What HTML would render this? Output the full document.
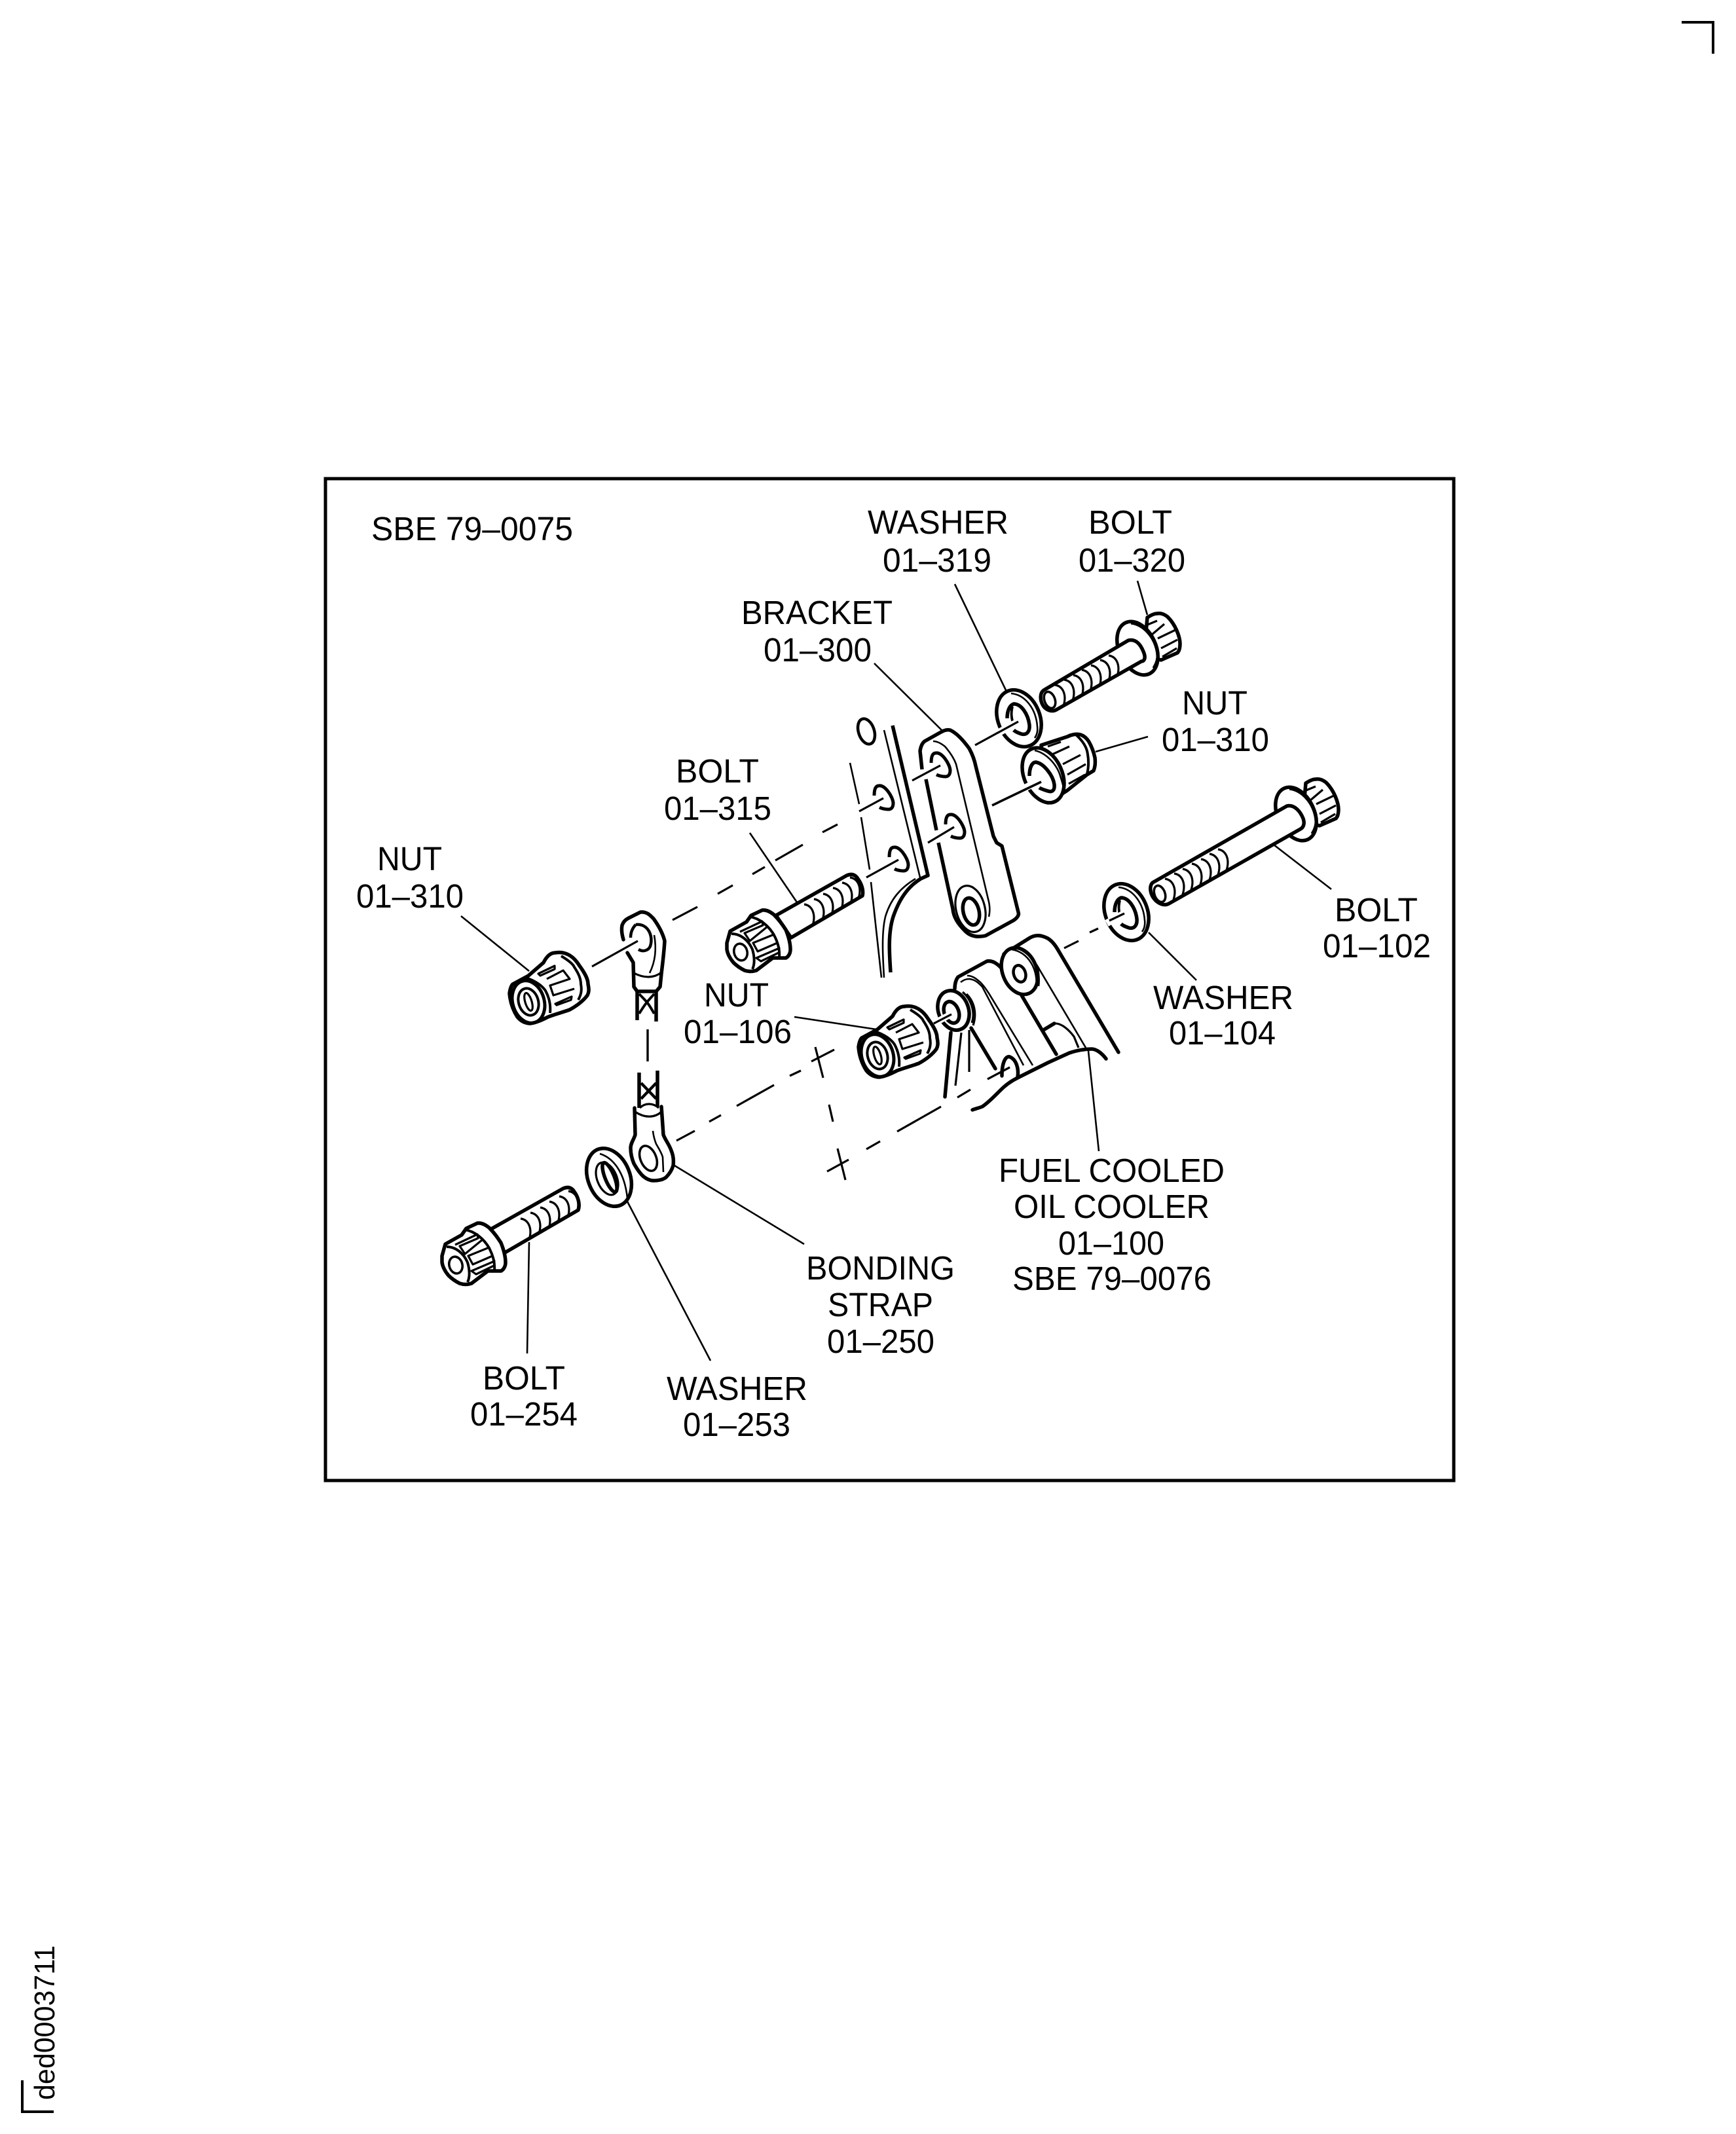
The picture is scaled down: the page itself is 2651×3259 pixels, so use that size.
<!DOCTYPE html>
<html><head><meta charset="utf-8"><style>
html,body{margin:0;padding:0;background:#fff}
svg{display:block}
text{font-family:"Liberation Sans",sans-serif;font-size:51px;fill:#000}
.k{fill:none;stroke:#000;stroke-width:5.5;stroke-linecap:round;stroke-linejoin:round}
.w{fill:#fff;stroke:#000;stroke-width:5.5;stroke-linejoin:round}
.m{fill:none;stroke:#000;stroke-width:3.2;stroke-linejoin:round}
.s{fill:none;stroke:#000;stroke-width:2.6}
</style></head><body>
<svg xmlns="http://www.w3.org/2000/svg" width="2651" height="3259" viewBox="0 0 2651 3259">
<defs>
<path id="t" class="m" d="M-7-16C6-14 11 0 6 16"/>
<path id="ho" class="k" style="stroke-width:5;stroke-linecap:butt" d="M-14-3C-14-12-12-18-7-18C2-20 14-2 15 8C15 15 12 18 8 18C3 18-2 17-6 15"/>
<g id="ha">
<path class="w" d="M15-47C20-50 25-53 30-53C36-54 41-52 46-48C52-42 57-34 60-27C63-20 65-14 65-7C65-1 64 4 61 7L36 18L10 10Z"/>
<path class="m" d="M13-35L30-42M21-20L41-37M31-15L58-28M36 0L61-13M38 13L60 0"/>
<ellipse class="w" rx="28" ry="43" transform="rotate(-25)"/>
<path class="m" d="M-10-38C8-36 26-18 30 8C31 16 28 24 24 30"/>
</g>
<g id="hf">
<path class="w" d="M-21-14L-16-32L9-46L16-56L33-64C40-65 46-61 51-57C58-50 64-42 69-34C73-24 76-14 76-4C76 2 73 7 69 9L49 9L24 28C18 30 12 30 6 28C0 25-6 21-11 16C-16 10-20 3-21-4Z"/>
<path class="m" style="stroke-width:4" d="M-14-28C0-28 12-18 18-4C21 6 22 18 18 26"/>
<ellipse class="m" style="stroke-width:3.6" rx="10" ry="13" transform="rotate(-15)"/>
<path class="m" style="stroke-width:4" d="M14-54C28-52 44-40 52-24C57-14 60 -4 59 8"/>
<path class="m" d="M-1-31L33-47L34-41L6-29L14-17L41-39L51-27L19-14L26-1L56-14L59-6L24 9L31 14L58 1"/>
</g>
<g id="n">
<path class="w" d="M-29-13C-28-20-26-25-24-27L0-40L23-60C28-70 34-75 41-75C58-78 70-68 78-55C86-44 91-35 91-27C93-18 92-14 90-10C84-2 74 6 63 12C52 16 40 19 30 23C22 27 12 32 3 33C-5 33-12 29-17 23C-24 12-28 0-29-13Z"/>
<ellipse class="k" rx="24" ry="33" transform="rotate(-17)" style="stroke-width:5"/>
<ellipse class="m" style="stroke-width:4" rx="15" ry="21" transform="rotate(-17)"/>
<ellipse class="m" rx="5" ry="14" transform="rotate(-17)"/>
<path class="m" style="stroke-width:4" d="M50-70C60-64 68-58 70-53C76-44 80-36 80-27C82-17 80-10 76-3"/>
<path class="m" style="stroke-width:4" d="M-4-37C10-32 20-26 26-17C32-6 34 6 33 17"/>
<path class="m" d="M15-43L40-55L40-50L18-40ZM28-35L53-48L63-35L33-25L38-10L70-20M41 3L66-8L65-3L43 5Z"/>
</g>
<g id="wa">
<ellipse class="w" rx="32" ry="45" transform="rotate(-22)"/>
<path class="s" d="M-12-38C10-36 26-14 28 12C29 20 27 26 24 30"/>
<path class="k" style="stroke-linecap:butt" d="M-18 0C-18-12-14-20-8-22C4-22 14-6 16 10C17 20 12 26 4 24C-2 22-6 20-8 18"/>
<path class="k" style="stroke-width:4;stroke-linecap:butt" d="M-10-18C-12-10-12-4-10 4"/>
</g>
</defs>
<rect x="497" y="731" width="1723" height="1530" fill="none" stroke="#000" stroke-width="5"/>
<path d="M2568 34H2616V82" fill="none" stroke="#000" stroke-width="4"/>
<path d="M34 3177V3225H82" fill="none" stroke="#000" stroke-width="4"/>
<text transform="translate(83,3207) rotate(-90)" style="font-size:44px" textLength="236" lengthAdjust="spacingAndGlyphs">ded0003711</text>

<!-- labels -->
<text x="567" y="825" textLength="308" lengthAdjust="spacingAndGlyphs">SBE 79–0075</text>
<text x="1325" y="815" textLength="215" lengthAdjust="spacingAndGlyphs">WASHER</text>
<text x="1348" y="873" textLength="166" lengthAdjust="spacingAndGlyphs">01–319</text>
<text x="1662" y="815" textLength="128" lengthAdjust="spacingAndGlyphs">BOLT</text>
<text x="1647" y="873" textLength="163" lengthAdjust="spacingAndGlyphs">01–320</text>
<text x="1132" y="953" textLength="231" lengthAdjust="spacingAndGlyphs">BRACKET</text>
<text x="1166" y="1010" textLength="165" lengthAdjust="spacingAndGlyphs">01–300</text>
<text x="1805" y="1091" textLength="100" lengthAdjust="spacingAndGlyphs">NUT</text>
<text x="1774" y="1147" textLength="164" lengthAdjust="spacingAndGlyphs">01–310</text>
<text x="1032" y="1195" textLength="127" lengthAdjust="spacingAndGlyphs">BOLT</text>
<text x="1014" y="1252" textLength="164" lengthAdjust="spacingAndGlyphs">01–315</text>
<text x="2038" y="1407" textLength="127" lengthAdjust="spacingAndGlyphs">BOLT</text>
<text x="2020" y="1462" textLength="165" lengthAdjust="spacingAndGlyphs">01–102</text>
<text x="576" y="1329" textLength="99" lengthAdjust="spacingAndGlyphs">NUT</text>
<text x="544" y="1386" textLength="164" lengthAdjust="spacingAndGlyphs">01–310</text>
<text x="1075" y="1537" textLength="99" lengthAdjust="spacingAndGlyphs">NUT</text>
<text x="1044" y="1593" textLength="165" lengthAdjust="spacingAndGlyphs">01–106</text>
<text x="1761" y="1541" textLength="214" lengthAdjust="spacingAndGlyphs">WASHER</text>
<text x="1785" y="1595" textLength="163" lengthAdjust="spacingAndGlyphs">01–104</text>
<text x="1525" y="1805" textLength="345" lengthAdjust="spacingAndGlyphs">FUEL COOLED</text>
<text x="1548" y="1860" textLength="299" lengthAdjust="spacingAndGlyphs">OIL COOLER</text>
<text x="1616" y="1916" textLength="162" lengthAdjust="spacingAndGlyphs">01–100</text>
<text x="1546" y="1970" textLength="304" lengthAdjust="spacingAndGlyphs">SBE 79–0076</text>
<text x="1231" y="1954" textLength="227" lengthAdjust="spacingAndGlyphs">BONDING</text>
<text x="1264" y="2010" textLength="161" lengthAdjust="spacingAndGlyphs">STRAP</text>
<text x="1263" y="2066" textLength="164" lengthAdjust="spacingAndGlyphs">01–250</text>
<text x="737" y="2122" textLength="126" lengthAdjust="spacingAndGlyphs">BOLT</text>
<text x="718" y="2177" textLength="164" lengthAdjust="spacingAndGlyphs">01–254</text>
<text x="1018" y="2138" textLength="215" lengthAdjust="spacingAndGlyphs">WASHER</text>
<text x="1043" y="2193" textLength="164" lengthAdjust="spacingAndGlyphs">01–253</text>

<!-- leaders -->
<path class="s" d="M1458 892L1536 1054M1737 887L1752 939M1335 1013L1440 1117M1753 1125L1673 1148M1145 1272L1217 1378M2033 1358L1945 1290M1827 1497L1754 1424M704 1399L808 1483M1213 1553L1338 1572M1030 1780L1228 1900M958 1835L1085 2078M808 1897L805 2067M1662 1605L1678 1758"/>

<!-- plate -->
<ellipse class="m" style="stroke-width:4.5" cx="1323" cy="1117" rx="12" ry="20" transform="rotate(-18 1323 1117)"/>
<path class="s" d="M1298 1165L1312 1228M1315 1248L1328 1328M1330 1347L1346 1493M1350 1115L1405 1340"/>
<path class="s" d="M1398 1342C1375 1356 1360 1373 1352 1400C1346 1425 1348 1460 1350 1493"/>
<path class="k" style="stroke-linecap:butt" d="M1363 1108L1417 1337L1406 1342C1390 1352 1375 1368 1364 1400C1356 1425 1358 1455 1360 1485"/>
<use href="#ho" x="1349" y="1218"/><use href="#ho" x="1372" y="1312"/>
<!-- centre lines -->
<path class="s" style="stroke-width:3.2" d="M1312 1239L1349 1219M1256 1271L1279 1259M1184 1314L1226 1290M1149 1335L1168 1324M1096 1365L1119 1352M1027 1405L1065 1385M1323 1340L1372 1313M1393 1192L1436 1169M1417 1287L1457 1263M904 1476L974 1437"/>

<!-- bracket -->
<path class="k" style="stroke-linecap:butt" d="M1408 1175L1405 1147C1406 1140 1408 1135 1412 1132L1437 1118C1442 1115 1447 1114 1451 1115C1462 1120 1472 1132 1480 1143C1485 1152 1488 1160 1490 1170L1517 1277L1522 1287L1530 1292L1555 1393C1557 1398 1552 1403 1547 1406L1505 1429C1492 1432 1482 1430 1474 1422C1462 1410 1456 1400 1455 1388L1433 1287M1414 1190L1430 1268"/>
<path class="s" d="M1425 1132C1432 1132 1438 1136 1443 1140C1450 1148 1456 1156 1460 1167L1509 1373C1512 1384 1512 1392 1510 1400"/>
<use href="#ho" x="1436" y="1168"/><use href="#ho" x="1458" y="1262"/>
<ellipse class="m" cx="1482" cy="1388" rx="22" ry="36" transform="rotate(-14 1482 1388)"/>
<ellipse class="k" cx="1483" cy="1392" rx="12" ry="21" transform="rotate(-14 1483 1392)"/>

<!-- bolt 320 -->
<use href="#ha" x="1737" y="990"/>
<path class="w" d="M1594 1054L1723 978C1735 975 1742 985 1746 995C1750 1004 1748 1010 1743 1010L1613 1084C1606 1088 1596 1084 1592 1076C1588 1068 1588 1058 1594 1054Z"/>
<ellipse class="m" style="stroke-width:3.6" cx="1603" cy="1069" rx="8" ry="13" transform="rotate(-20 1603 1069)"/>
<use href="#t" x="1618" y="1062"/><use href="#t" x="1632" y="1054"/><use href="#t" x="1646" y="1047"/><use href="#t" x="1659" y="1039"/><use href="#t" x="1673" y="1032"/><use href="#t" x="1687" y="1024"/><use href="#t" x="1700" y="1017"/>
<!-- washer 319 -->
<use href="#wa" x="1556" y="1097"/>
<path stroke="#fff" stroke-width="11" d="M1512 1126L1552 1104"/>
<path class="s" style="stroke-width:3.2" d="M1489 1138L1555 1102"/>

<!-- nut 310 right -->
<path class="w" d="M1590 1138L1630 1125C1636 1122 1644 1120 1650 1122C1656 1124 1660 1128 1663 1133C1667 1140 1670 1148 1672 1157C1673 1165 1672 1172 1670 1177L1660 1183L1630 1207L1600 1226Z"/>
<path class="m" style="stroke-width:4" d="M1643 1122C1654 1132 1660 1142 1661 1152C1663 1164 1662 1174 1660 1182"/>
<path class="m" d="M1600 1140L1620 1133M1607 1152L1633 1140M1623 1167L1650 1153M1630 1183L1658 1167M1632 1197L1657 1183"/>
<ellipse class="w" cx="1593" cy="1184" rx="29" ry="44" transform="rotate(-24 1593 1184)"/>
<path class="s" d="M1580 1146C1598 1150 1615 1168 1620 1188C1624 1200 1625 1208 1624 1212"/>
<path class="k" style="stroke-linecap:butt" d="M1572 1185C1572 1172 1576 1164 1582 1164C1594 1166 1608 1184 1610 1198C1611 1208 1606 1210 1600 1208C1594 1206 1590 1205 1587 1203"/>
<path stroke="#fff" stroke-width="11" d="M1548 1212L1584 1194"/>
<path class="s" style="stroke-width:3.6" d="M1515 1230L1590 1194"/>

<!-- bolt 102 -->
<use href="#ha" x="1979" y="1243"/>
<path class="w" d="M1760 1348L1965 1231C1977 1228 1986 1240 1990 1250C1993 1258 1990 1264 1986 1266L1785 1380C1778 1384 1768 1380 1762 1372C1756 1364 1755 1353 1760 1348Z"/>
<ellipse class="m" style="stroke-width:3.6" cx="1771" cy="1365" rx="8" ry="13" transform="rotate(-20 1771 1365)"/>
<use href="#t" x="1786" y="1358"/><use href="#t" x="1800" y="1350"/><use href="#t" x="1813" y="1343"/><use href="#t" x="1827" y="1335"/><use href="#t" x="1841" y="1328"/><use href="#t" x="1854" y="1320"/><use href="#t" x="1867" y="1313"/>
<!-- washer 104 -->
<use href="#wa" x="1720" y="1393"/>
<path stroke="#fff" stroke-width="11" d="M1690 1410L1717 1395"/>
<path class="s" style="stroke-width:3.2" d="M1694 1406L1717 1395M1664 1424L1677 1418M1625 1448L1647 1437"/>

<!-- bolt 315 -->
<path class="w" d="M1293 1337C1300 1334 1306 1335 1310 1342C1316 1350 1319 1360 1317 1368L1208 1432L1185 1398Z"/>
<use href="#t" x="1235" y="1397"/><use href="#t" x="1250" y="1389"/><use href="#t" x="1264" y="1381"/><use href="#t" x="1279" y="1372"/><use href="#t" x="1293" y="1364"/><use href="#t" x="1305" y="1356"/>
<use href="#hf" x="1131" y="1454"/>

<!-- bolt 254 -->
<path class="w" d="M860 1815C867 1812 873 1813 877 1820C883 1828 886 1840 883 1848L771 1913L748 1878Z"/>
<use href="#t" x="875" y="1835"/><use href="#t" x="861" y="1843"/><use href="#t" x="846" y="1851"/><use href="#t" x="832" y="1860"/><use href="#t" x="817" y="1868"/><use href="#t" x="802" y="1877"/>
<use href="#hf" x="696" y="1932"/>

<!-- washer 253 -->
<ellipse class="w" cx="930" cy="1798" rx="32" ry="46" transform="rotate(-22 930 1798)"/>
<ellipse class="m" cx="927" cy="1800" rx="15" ry="26" transform="rotate(-22 927 1800)"/>
<ellipse class="k" cx="931" cy="1798" rx="7" ry="24" transform="rotate(-22 931 1798)"/>
<path class="s" d="M916 1762C936 1768 954 1790 958 1830"/>

<!-- nuts -->
<use href="#n" x="807" y="1530"/>
<use href="#n" x="1340" y="1612"/>

<!-- top eyelet -->
<path class="k" d="M952 1435C949 1425 949 1418 950 1413C952 1407 956 1404 960 1402L978 1393C988 1392 993 1398 998 1403C1006 1414 1012 1425 1015 1437C1014 1455 1012 1470 1010 1487L1008 1507L1002 1514H973L968 1507L967 1470L958 1455"/>
<path class="m" style="stroke-width:4.5" d="M971 1412C990 1410 998 1430 993 1445C990 1452 982 1454 975 1450M971 1412C965 1418 963 1425 963 1432"/>
<path class="s" d="M999 1428C1003 1450 1000 1470 992 1486"/>
<path class="m" d="M968 1486C985 1495 1000 1493 1010 1485"/>
<path class="k" style="stroke-linecap:butt" d="M973 1514V1558M1002 1514V1560"/>
<path class="m" style="stroke-width:4" d="M976 1518C988 1530 990 1532 999 1548M999 1518C988 1530 986 1532 976 1548"/>
<path class="s" style="stroke-width:3.4" d="M989 1572V1621"/>
<!-- lower braid -->
<path class="k" style="stroke-linecap:butt" d="M976 1638V1692M1004 1635V1690"/>
<path class="m" style="stroke-width:4.5" d="M979 1654L1002 1678M1002 1654L979 1678"/>
<!-- lower eyelet -->
<path class="k" d="M969 1692L970 1733C968 1740 963 1746 963 1753C963 1762 965 1770 968 1777C972 1784 977 1792 983 1797C988 1801 993 1803 998 1803C1005 1803 1012 1802 1017 1798C1022 1793 1026 1787 1028 1780C1029 1772 1028 1764 1025 1757C1022 1748 1016 1741 1013 1733L1010 1690"/>
<path class="m" d="M970 1698C985 1708 1000 1707 1010 1698M977 1692C985 1684 997 1684 1006 1692"/>
<ellipse class="m" style="stroke-width:3.6" cx="990" cy="1769" rx="12" ry="20" transform="rotate(-22 990 1769)"/>
<path class="s" d="M997 1727C998 1736 1000 1742 1002 1747C1006 1754 1010 1760 1012 1767L1013 1790"/>

<!-- dashes lower -->
<path class="s" style="stroke-width:3.2" d="M1033 1742L1061 1727M1083 1713L1101 1703M1125 1689L1182 1657M1206 1643L1223 1635M1239 1621L1274 1603M1426 1563L1453 1549M1245 1599L1257 1646M1266 1687L1272 1713M1279 1754L1291 1802M1263 1789L1296 1771M1323 1755L1344 1743M1370 1728L1437 1690M1462 1676L1482 1664M1508 1648L1542 1630"/>

<!-- oil cooler -->
<path class="k" d="M1533 1457L1573 1432C1582 1427 1590 1428 1600 1433C1608 1438 1613 1446 1617 1453L1708 1607"/>
<path class="k" d="M1458 1510C1458 1502 1460 1496 1463 1492L1507 1468C1517 1466 1526 1474 1533 1483"/>
<path class="s" d="M1467 1500C1472 1496 1476 1495 1480 1495C1490 1496 1495 1502 1500 1507L1563 1627M1477 1490C1486 1490 1492 1496 1497 1500C1503 1506 1506 1511 1510 1517L1577 1627M1573 1463C1580 1468 1584 1474 1587 1480L1658 1600"/>
<ellipse class="w" cx="1557" cy="1483" rx="26" ry="37" transform="rotate(-22 1557 1483)"/>
<path class="s" d="M1545 1450C1570 1454 1586 1480 1582 1510M1553 1448C1575 1456 1590 1480 1586 1506"/>
<ellipse class="m" style="stroke-width:4.5" cx="1557" cy="1487" rx="9" ry="13" transform="rotate(-18 1557 1487)"/>
<path class="k" d="M1560 1520L1613 1610M1595 1572L1610 1563"/>
<path class="m" d="M1610 1563C1622 1562 1634 1575 1640 1583L1647 1600"/>
<path class="k" d="M1485 1695C1490 1693 1495 1692 1500 1690C1512 1682 1522 1670 1533 1660C1542 1652 1550 1648 1560 1643L1600 1623L1633 1608C1645 1604 1655 1602 1667 1602C1675 1602 1684 1610 1689 1617"/>
<path class="k" d="M1530 1643C1530 1622 1536 1612 1542 1614C1552 1618 1556 1632 1554 1645"/>
<path class="s" style="stroke-width:3.2" d="M1508 1648L1542 1630"/>
<path class="k" d="M1452 1577L1443 1675M1483 1570L1520 1632"/>
<path class="m" d="M1468 1577L1459 1658M1480 1573V1637"/>
<!-- small washer -->
<path class="m" d="M1470 1515C1482 1525 1490 1545 1484 1562M1476 1518C1488 1530 1492 1548 1486 1566"/>
<ellipse class="w" cx="1456" cy="1543" rx="23" ry="31" transform="rotate(-20 1456 1543)"/>
<ellipse class="k" cx="1453" cy="1546" rx="11" ry="17" transform="rotate(-20 1453 1546)"/>
<path stroke="#fff" stroke-width="10" d="M1428 1562L1450 1550"/>
<path class="s" style="stroke-width:3.2" d="M1426 1563L1453 1549"/>
</svg>
</body></html>
